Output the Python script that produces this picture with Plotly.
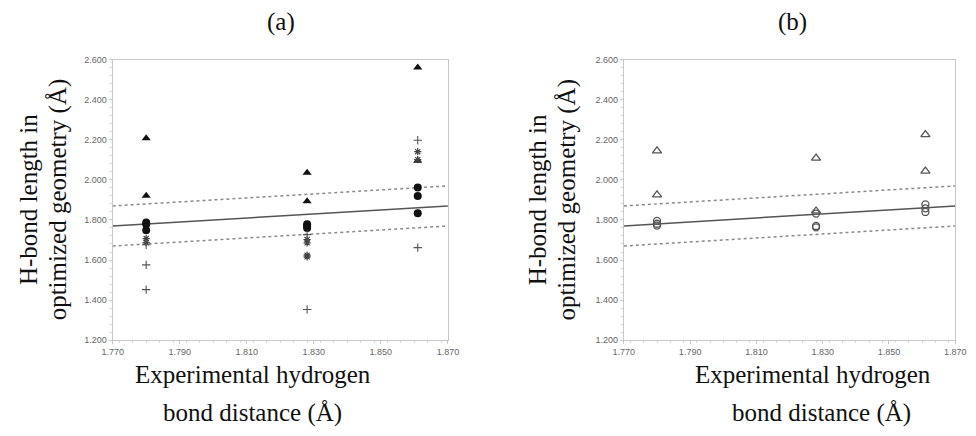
import plotly.graph_objects as go

# ---------------- data ----------------
exp_x = [1.780, 1.828, 1.861]

# panel (a)
a_tri_x = [1.780, 1.780, 1.828, 1.828, 1.861, 1.861]
a_tri_y = [2.208, 1.921, 2.036, 1.893, 2.561, 2.095]
a_circ_x = [1.780, 1.780, 1.780, 1.828, 1.828, 1.828, 1.861, 1.861, 1.861]
a_circ_y = [1.787, 1.778, 1.748, 1.779, 1.770, 1.760, 1.962, 1.919, 1.834]
a_star_x = [1.780, 1.780, 1.828, 1.828, 1.828, 1.828, 1.861, 1.861]
a_star_y = [1.707, 1.687, 1.702, 1.686, 1.624, 1.616, 2.141, 2.101]
a_plus_x = [1.780, 1.780, 1.780, 1.828, 1.828, 1.861, 1.861]
a_plus_y = [1.676, 1.576, 1.452, 1.727, 1.353, 2.198, 1.662]

# panel (b)
b_tri_x = [1.780, 1.780, 1.828, 1.828, 1.861, 1.861]
b_tri_y = [2.145, 1.925, 2.109, 1.845, 2.226, 2.044]
b_circ_x = [1.780, 1.780, 1.780, 1.828, 1.828, 1.828, 1.861, 1.861, 1.861]
b_circ_y = [1.795, 1.781, 1.772, 1.832, 1.770, 1.763, 1.878, 1.858, 1.840]

line_x = [1.770, 1.870]
offset = 0.1

x_ticks = [1.770, 1.790, 1.810, 1.830, 1.850, 1.870]
y_ticks = [1.200, 1.400, 1.600, 1.800, 2.000, 2.200, 2.400, 2.600]

# ---------------- figure ----------------
W, H = 976, 436
fig = go.Figure()

def px(v):
    return v / W

def py(v):
    return 1 - v / H

dom_y = [py(343), py(56)]
dom_xa = [px(104), px(447)]
dom_xb = [px(627), px(966)]

def add_lines(xa, ya):
    fig.add_trace(go.Scatter(x=line_x, y=[v for v in line_x], mode="lines",
                             line=dict(color="#555555", width=1.5),
                             xaxis=xa, yaxis=ya, showlegend=False, hoverinfo="skip"))
    for s in (offset, -offset):
        fig.add_trace(go.Scatter(x=line_x, y=[v + s for v in line_x], mode="lines",
                                 line=dict(color="#8a8a8a", width=1.5, dash="dot"),
                                 xaxis=xa, yaxis=ya, showlegend=False, hoverinfo="skip"))

add_lines("x", "y")
add_lines("x2", "y2")

fig.add_trace(go.Scatter(x=a_tri_x, y=a_tri_y, mode="markers",
                         marker=dict(symbol="triangle-up", size=8, color="#111111"),
                         showlegend=False))
fig.add_trace(go.Scatter(x=a_circ_x, y=a_circ_y, mode="markers",
                         marker=dict(symbol="circle", size=8, color="#111111"),
                         showlegend=False))
fig.add_trace(go.Scatter(x=a_star_x, y=a_star_y, mode="markers",
                         marker=dict(symbol="asterisk-open", size=6, color="#444444",
                                     line=dict(color="#444444", width=1.2)),
                         showlegend=False))
fig.add_trace(go.Scatter(x=a_plus_x, y=a_plus_y, mode="markers",
                         marker=dict(symbol="cross-thin-open", size=6, color="#555555",
                                     line=dict(color="#555555", width=1.1)),
                         showlegend=False))

fig.add_trace(go.Scatter(x=b_tri_x, y=b_tri_y, mode="markers",
                         marker=dict(symbol="triangle-up-open", size=8, color="#555555",
                                     line=dict(color="#555555", width=1.3)),
                         xaxis="x2", yaxis="y2", showlegend=False))
fig.add_trace(go.Scatter(x=b_circ_x, y=b_circ_y, mode="markers",
                         marker=dict(symbol="circle-open", size=7, color="#555555",
                                     line=dict(color="#555555", width=1.3)),
                         xaxis="x2", yaxis="y2", showlegend=False))

tickfont = dict(family="Liberation Sans, Arial", size=9, color="#666666")
common_x = dict(range=[1.770, 1.870], tickvals=x_ticks,
                ticktext=["%.3f" % v for v in x_ticks],
                showgrid=False, zeroline=False, showline=True, linecolor="#c8c8c8",
                linewidth=1, mirror=True, ticks="outside", ticklen=3, tickcolor="#c8c8c8",
                tickfont=tickfont,
                minor=dict(ticks="outside", ticklen=2, tickcolor="#d8d8d8", dtick=0.004))
common_y = dict(range=[1.200, 2.600], tickvals=y_ticks,
                ticktext=["%.3f" % v for v in y_ticks],
                showgrid=False, zeroline=False, showline=True, linecolor="#c8c8c8",
                linewidth=1, mirror=True, ticks="outside", ticklen=3, tickcolor="#c8c8c8",
                tickfont=tickfont,
                minor=dict(ticks="outside", ticklen=2, tickcolor="#d8d8d8", dtick=0.04))

fig.update_layout(
    width=W, height=H,
    margin=dict(l=0, r=0, t=0, b=0),
    paper_bgcolor="white", plot_bgcolor="white",
    xaxis=dict(domain=dom_xa, anchor="y", **common_x),
    yaxis=dict(domain=dom_y, anchor="x", **common_y),
    xaxis2=dict(domain=dom_xb, anchor="y2", **common_x),
    yaxis2=dict(domain=dom_y, anchor="x2", **common_y),
)

serif = dict(family="Liberation Serif, Times New Roman, serif", size=25, color="#111111")

def ann(text, x, y, angle=0):
    fig.add_annotation(text=text, x=px(x), y=py(y), xref="paper", yref="paper",
                       showarrow=False, font=serif, textangle=angle,
                       xanchor="center", yanchor="middle")

ann("(a)", 276, 17)
ann("(b)", 800, 17)
ann("H-bond length in", 18, 199, -90)
ann("optimized geometry (Å)", 49, 199, -90)
ann("H-bond length in", 539, 199, -90)
ann("optimized geometry (Å)", 569, 199, -90)
ann("Experimental hydrogen", 248, 378)
ann("bond distance (Å)", 247, 418)
ann("Experimental hydrogen", 820, 378)
ann("bond distance (Å)", 829, 418)

fig.write_html("out.html")
